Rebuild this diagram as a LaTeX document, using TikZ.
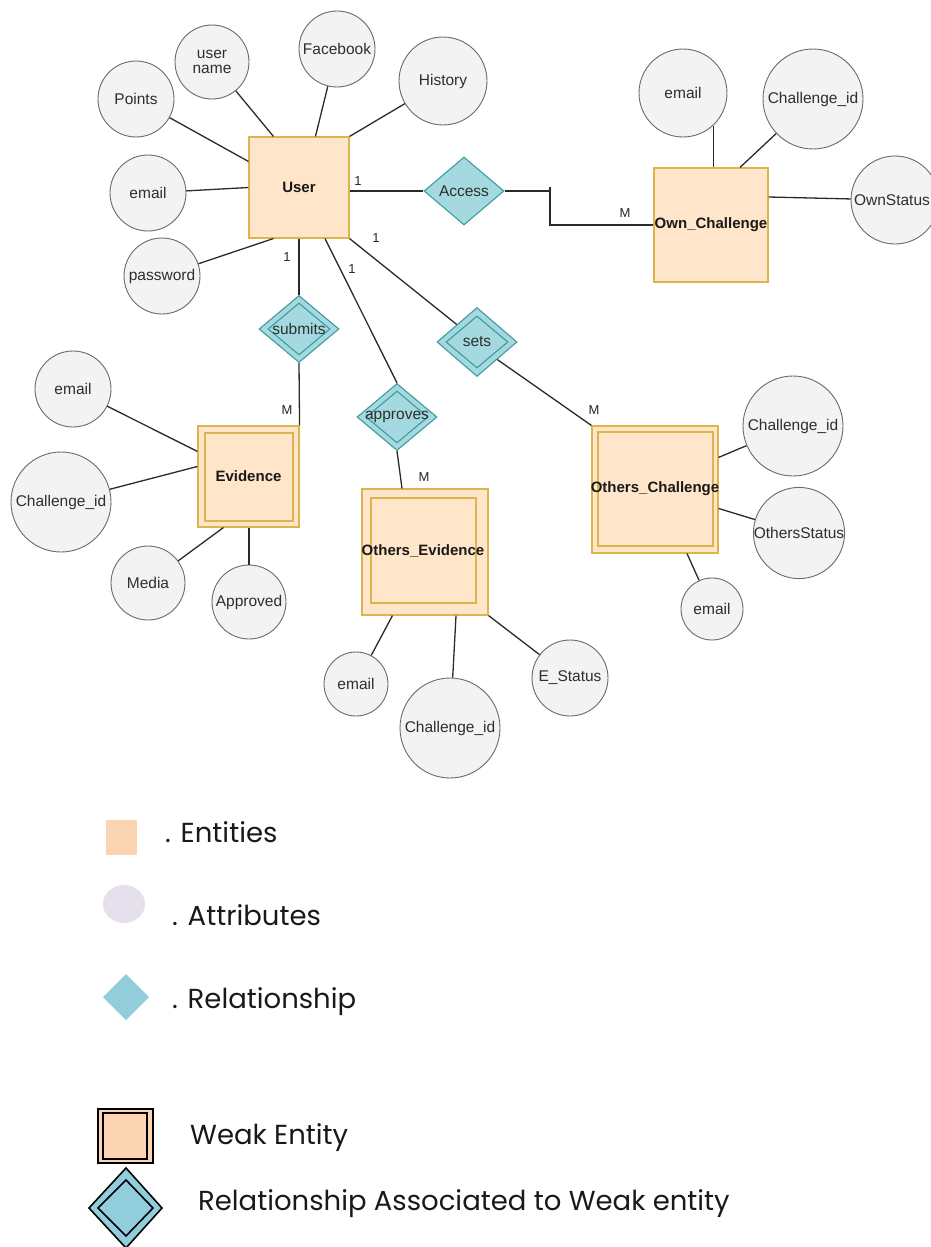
\documentclass[tikz,border=0pt]{standalone}
\usepackage{fontspec}
\setmainfont{Liberation Sans}
\newfontfamily\advfont{Poppins}
\usetikzlibrary{shapes.geometric,calc}
\definecolor{attrfill}{HTML}{F3F3F3}
\definecolor{attrdraw}{HTML}{6A6A6A}
\definecolor{attrtext}{HTML}{2E2E2E}
\definecolor{entfill}{HTML}{FFE5CA}
\definecolor{entdraw}{HTML}{DDB44E}
\definecolor{relfill}{HTML}{A4D9DF}
\definecolor{reldraw}{HTML}{3F9BA1}
\definecolor{linec}{HTML}{2A2A2A}
\definecolor{legent}{HTML}{FBD4B4}
\definecolor{legattr}{HTML}{E5E0EC}
\definecolor{legrel}{HTML}{92CDDC}
\begin{document}
\begin{tikzpicture}[x=1pt,y=-1pt,
  attr/.style={circle, draw=attrdraw, fill=attrfill, inner sep=0pt, text=attrtext,
    font=\fontsize{15.5}{16.5}\selectfont, align=center, line width=0.9pt},
  attrlbl/.style={inner sep=0pt, text=attrtext, font=\fontsize{15.5}{16.5}\selectfont},
  ent/.style={rectangle, draw=entdraw, fill=entfill, inner sep=0pt, line width=1.1pt},
  entlbl/.style={inner sep=0pt, text=black!90, font=\fontsize{15}{17}\selectfont\bfseries},
  rel/.style={diamond, draw=reldraw, fill=relfill, inner sep=0pt, minimum width=80pt,
    minimum height=68pt, line width=1.1pt},
  relin/.style={diamond, draw=reldraw, inner sep=0pt, minimum width=62pt,
    minimum height=52pt, line width=1.1pt},
  rellbl/.style={inner sep=0pt, text=attrtext, font=\fontsize{15.5}{17}\selectfont},
  conn/.style={draw=linec, line width=1.3pt},
  card/.style={inner sep=0pt, text=black!85, font=\fontsize{13}{15}\selectfont},
  legtxt/.style={anchor=base west, inner sep=0pt, text=black!90, font=\advfont\fontsize{27.5}{32}\selectfont}
]
\useasboundingbox (0,0) rectangle (930,1247);

% ---------- entities ----------
\node[ent, minimum width=100pt, minimum height=101pt] (user) at (299,187.5) {};
\node[entlbl] (userlbl) at (user) {User};
\node[ent, minimum width=114pt, minimum height=114pt] (own) at (711,225) {};
\node[entlbl] (ownlbl) at (own) {Own\_Challenge};

\node[ent, minimum width=101pt, minimum height=101pt] (ev) at (248.5,476.5) {};
\node[ent, minimum width=88pt, minimum height=88pt] (evin) at (249,477) {};
\node[entlbl] (evlbl) at (ev) {Evidence};

\node[ent, minimum width=126pt, minimum height=126pt] (oev) at (425,552) {};
\node[ent, minimum width=105pt, minimum height=105pt] (oevin) at (423.5,550.5) {};
\node[entlbl] (oevlbl) at (423,551) {Others\_Evidence};

\node[ent, minimum width=126pt, minimum height=127pt] (och) at (655,489.5) {};
\node[ent, minimum width=115pt, minimum height=114pt] (ochin) at (655.5,489) {};
\node[entlbl] (ochlbl) at (655,489) {Others\_Challenge};

% ---------- relationships ----------
\node[rel] (acc) at (464,191) {};
\node[rellbl] (acclbl) at (acc) {Access};

\node[rel, minimum height=67pt] (sub) at (299,329) {};
\node[relin] (subin) at (sub) {};
\node[rellbl] (sublbl) at (sub) {submits};

\node[rel, minimum height=67pt] (appr) at (397,417) {};
\node[relin] (apprin) at (appr) {};
\node[rellbl] (apprlbl) at (appr) {approves};

\node[rel, minimum height=69pt] (sets) at (477,342) {};
\node[relin] (setsin) at (sets) {};
\node[rellbl] (setslbl) at (sets) {sets};

% ---------- attributes ----------
\node[attr, minimum size=76pt] (pts) at (136,99) {Points};
\node[attr, minimum size=74pt] (uname) at (212,62) {user\\[-1pt]name};
\node[attr, minimum size=76pt] (fb) at (337,49) {Facebook};
\node[attr, minimum size=88pt] (hist) at (443,81) {History};
\node[attr, minimum size=76pt] (uemail) at (148,193) {email};
\node[attr, minimum size=76pt] (pwd) at (162,276) {password};

\node[attr, minimum size=88pt] (oemail) at (683,93) {email};
\node[attr, minimum size=100pt] (ocid) at (813,99) {Challenge\_id};
\node[attr, minimum size=88pt] (ostat) at (895,200) {};
\node[attrlbl] (ostatlbl) at (892,200) {OwnStatus};

\node[attr, minimum size=76pt] (evemail) at (73,389) {email};
\node[attr, minimum size=100pt] (evcid) at (61,502) {Challenge\_id};
\node[attr, minimum size=74pt] (media) at (148,583) {Media};
\node[attr, minimum size=74pt] (apprd) at (249,602) {Approved};

\node[attr, minimum size=64pt] (oeemail) at (356,684) {email};
\node[attr, minimum size=100pt] (oecid) at (450,728) {Challenge\_id};
\node[attr, minimum size=76pt] (estat) at (570,678) {E\_Status};

\node[attr, minimum size=100pt] (occid) at (793,426) {Challenge\_id};
\node[attr, minimum size=88pt] (ocstat) at (799,533) {OthersStatus};
\node[attr, minimum size=62pt] (ocemail) at (712,609) {email};

% ---------- connectors ----------
\draw[conn] (pts) -- ([yshift=-25pt]user.north west);
\draw[conn] (uname) -- ([xshift=25pt]user.north west);
\draw[conn] (fb) -- ([xshift=67pt]user.north west);
\draw[conn] (hist) -- (user.north east);
\draw[conn] (uemail) -- (user.west);
\draw[conn] (pwd) -- ([xshift=25pt]user.south west);

\draw[conn] (user.east |- acc) -- (acc.west);
\coordinate (bend) at (550,191);
\draw[conn] (acc.east) -- (bend) |- (own.west);
\draw[conn] (bend) -- ++(0pt,4pt);

\draw[conn] (oemail.-47) -- (oemail.-47 |- own.north);
\draw[conn] (ocid) -- ([xshift=29pt]own.north);
\draw[conn] (ostat) -- ([yshift=28pt]own.east);

\draw[conn] (user.south) -- (sub.north);
\draw[conn] (sub.south) -- (ev.north east);
\draw[conn] ([xshift=26pt]user.south) -- (appr.north);
\draw[conn] (appr.south) -- ([xshift=-23pt]oev.north);
\draw[conn] (user.south east) -- (sets.north west);
\draw[conn] (sets.south east) -- (och.north west);

\draw[conn] (evemail) -- ([yshift=-26pt]ev.north west);
\draw[conn] (evcid) -- ([yshift=-41pt]ev.north west);
\draw[conn] (media) -- ([xshift=26pt]ev.south west);
\draw[conn] (apprd) -- (apprd |- ev.south);

\draw[conn] (oeemail) -- ([xshift=31pt]oev.south west);
\draw[conn] (oecid) -- ([xshift=31pt]oev.south);
\draw[conn] (estat) -- (oev.south east);

\draw[conn] (occid) -- ([yshift=-32pt]och.north east);
\draw[conn] (ocstat) -- ([yshift=-83pt]och.north east);
\draw[conn] (ocemail) -- ([xshift=32pt]och.south);

% ---------- cardinalities ----------
\node[card] (c1) at (358,181) {1};
\node[card] (c2) at (287,257) {1};
\node[card] (c3) at (352,269) {1};
\node[card] (c4) at (376,238) {1};
\node[card] (m1) at (625,213) {M};
\node[card] (m2) at (287,410) {M};
\node[card] (m3) at (424,477) {M};
\node[card] (m4) at (594,410) {M};

% ---------- legend ----------
\fill[legent] (106,820) rectangle (137,855);
\node[legtxt] (lent) at (165,842) {. Entities};
\fill[legattr] (124,904) ellipse [x radius=21pt, y radius=19pt];
\node[legtxt] (lattr) at (172,925) {. Attributes};
\fill[legrel] (103,997) -- (126,974) -- (149,997) -- (126,1020) -- cycle;
\node[legtxt] (lrel) at (172,1008) {. Relationship};

\draw[black, line width=1.6pt, fill=legent] (98,1109) rectangle (153,1163);
\draw[black, line width=1.6pt] (103,1113) rectangle (147,1159);
\node[legtxt] (lweak) at (190,1144) {Weak Entity};
\draw[black, line width=1.6pt, fill=legrel] (89,1208) -- (126,1168) -- (162,1208) -- (126,1248) -- cycle;
\draw[black, line width=1.6pt] (98,1208) -- (126,1180) -- (153,1208) -- (126,1236) -- cycle;
\node[legtxt] (lweakrel) at (198,1210) {Relationship Associated to Weak entity};
\end{tikzpicture}
\end{document}
